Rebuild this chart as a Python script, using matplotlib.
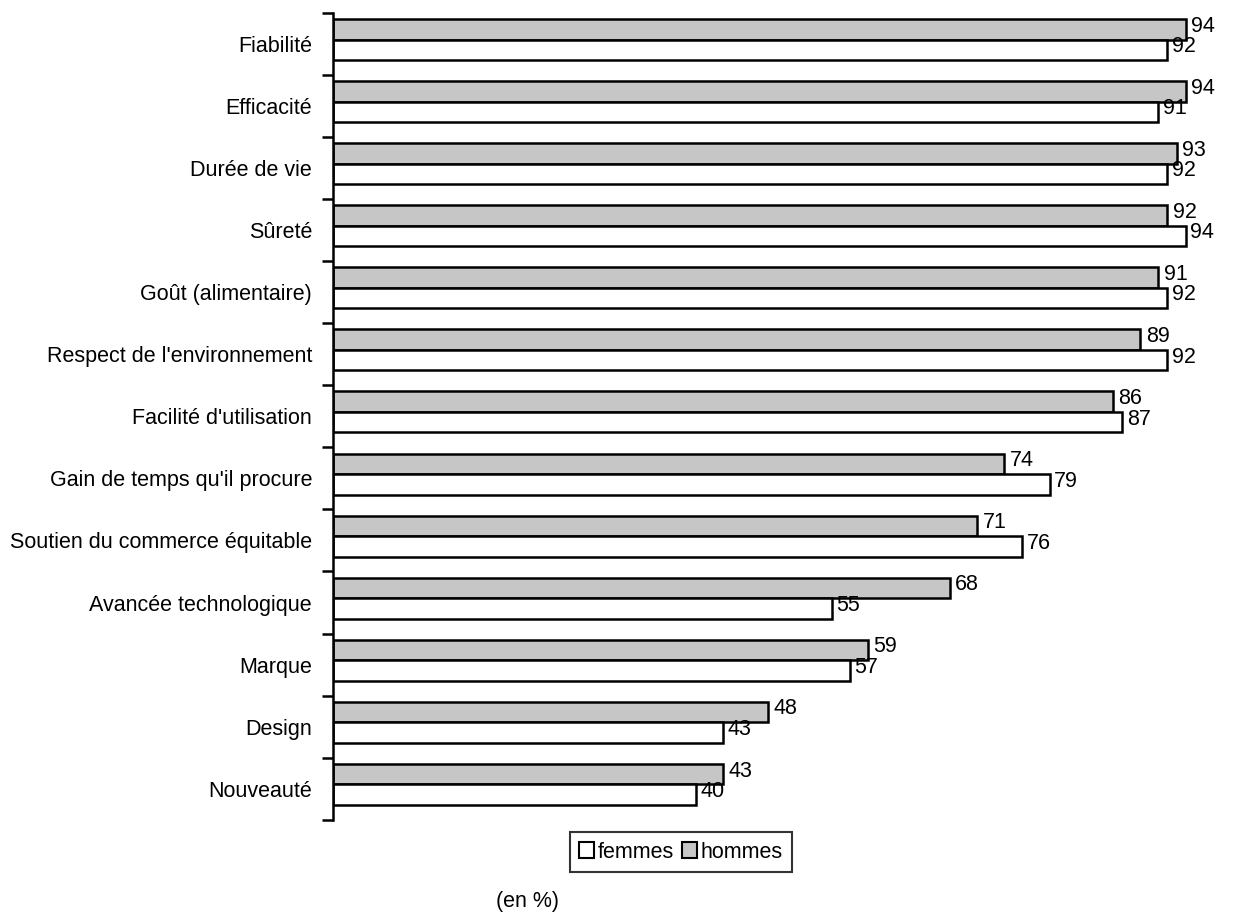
import matplotlib.pyplot as plt
import numpy as np
from matplotlib.patches import Patch

plt.rcParams['font.family'] = ['Liberation Sans', 'DejaVu Sans']
fs = 15.5

categories = ["Fiabilité", "Efficacité", "Durée de vie", "Sûreté",
              "Goût (alimentaire)", "Respect de l'environnement",
              "Facilité d'utilisation", "Gain de temps qu'il procure",
              "Soutien du commerce équitable", "Avancée technologique",
              "Marque", "Design", "Nouveauté"]
hommes = [94, 94, 93, 92, 91, 89, 86, 74, 71, 68, 59, 48, 43]
femmes = [92, 91, 92, 94, 92, 92, 87, 79, 76, 55, 57, 43, 40]

gray = '#c6c6c6'

fig = plt.figure(figsize=(12.33, 9.19), dpi=100)
ax = fig.add_axes([0.270, 0.108, 0.721, 0.878])

n = len(categories)
y = np.arange(n)
h = 0.33
off = 0.07
ax.barh(y - h / 2 - off, hommes, height=h, color=gray, edgecolor='black', linewidth=1.8)
ax.barh(y + h / 2 - off, femmes, height=h, color='white', edgecolor='black', linewidth=1.8)

for i in range(n):
    ax.text(hommes[i] + 0.6, y[i] - h / 2 - off - 0.05, str(hommes[i]), fontsize=fs,
            va='center', ha='left')
    ax.text(femmes[i] + 0.5, y[i] + h / 2 - off - 0.05, str(femmes[i]), fontsize=fs,
            va='center', ha='left')

ax.set_ylim(n - 0.5, -0.5)
ax.set_xlim(0, 98)
ax.set_yticks(np.arange(-0.5, n, 1))
ax.set_yticklabels([])
ax.set_yticks(y, minor=True)
ax.set_yticklabels(categories, minor=True, fontsize=fs)
ax.tick_params(axis='y', which='minor', length=0, pad=15)
ax.tick_params(axis='y', which='major', length=8, width=1.8, direction='out')
ax.set_xticks([])
for s in ['top', 'right', 'bottom']:
    ax.spines[s].set_visible(False)
ax.spines['left'].set_linewidth(1.8)

handles = [Patch(facecolor='white', edgecolor='black', linewidth=1.5, label='femmes'),
           Patch(facecolor=gray, edgecolor='black', linewidth=1.5, label='hommes')]
leg = fig.legend(handles=handles, loc='center', bbox_to_anchor=(681 / 1233, 1 - 852 / 919),
                 ncol=2, fontsize=fs, frameon=True, fancybox=False, edgecolor='black',
                 handlelength=0.7, handleheight=0.7, handletextpad=0.15, columnspacing=0.4,
                 borderpad=0.45)
leg.get_frame().set_linewidth(1.5)

fig.text(527 / 1233, 1 - 902 / 919, "(en %)", fontsize=fs, ha='center', va='center')

fig.savefig('out.png', dpi=100, facecolor='white')
